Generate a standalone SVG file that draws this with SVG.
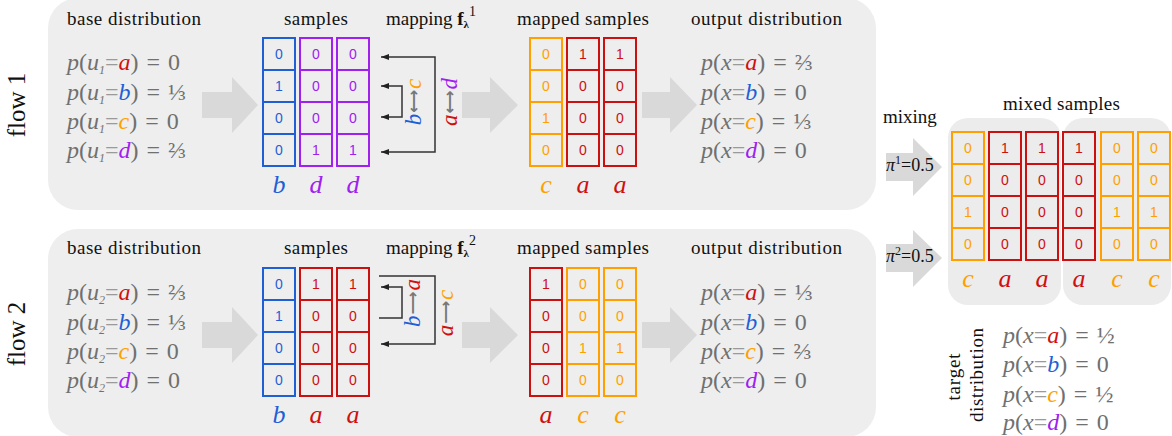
<svg xmlns="http://www.w3.org/2000/svg" width="1172" height="436" viewBox="0 0 1172 436">
<style>
.panel{fill:#eeeeee}
.mpanel{fill:#ececec}
.big{fill:#d9d9d9}
.hdr{font-family:"Liberation Serif",serif;font-size:19px;fill:#111}
.flow{font-family:"Liberation Serif",serif;font-size:25px;fill:#111;text-anchor:middle}
.math{font-family:"Liberation Serif","DejaVu Serif",serif;font-size:24px;fill:#707070;word-spacing:2px}
.it{font-style:italic}
.sub{font-size:12px;font-style:italic}
.eq{fill:#9a9a9a}
.num{font-family:"Liberation Sans",Arial,sans-serif;font-size:14px;text-anchor:middle}
.lbl{font-family:"Liberation Serif",serif;font-size:26px;font-style:italic;text-anchor:middle}
.rl{font-family:"Liberation Serif","DejaVu Serif",serif;font-size:23px;font-style:italic;text-anchor:middle}
.ar{font-family:"DejaVu Sans",sans-serif;font-style:normal;font-weight:bold;font-size:16px;fill:#777}
.map{fill:none;stroke:#333;stroke-width:1.5}
.cB rect,.cP rect,.cR rect,.cO rect{fill:none;stroke-width:2}
.cB rect{stroke:#1f5fd6}.cB text{fill:#1f5fd6}
.cP rect{stroke:#a020f0}.cP text{fill:#a020f0}
.cR rect{stroke:#cc1010}.cR text{fill:#cc1010}
.cO rect{stroke:#ffa000}.cO text{fill:#ffa000}
.r{fill:#d01010}.b{fill:#1f5fd6}.o{fill:#ffa000}.p{fill:#a020f0}
.pi{font-family:"Liberation Serif",serif;font-size:18px;fill:#111}
</style>
<defs>
<marker id="ah" viewBox="0 0 8 6" refX="8" refY="3" markerWidth="8" markerHeight="6" markerUnits="userSpaceOnUse" orient="auto-start-reverse"><path d="M0 0 L8 3 L0 6 z" fill="#222"/></marker>
</defs>

<!-- panels -->
<rect class="panel" x="48" y="-2" width="828" height="212" rx="30"/>
<rect class="panel" x="48" y="229" width="828" height="208" rx="30"/>
<rect class="mpanel" x="948" y="118" width="113" height="187" rx="20"/>
<rect class="mpanel" x="1063" y="118" width="108" height="187" rx="20"/>

<!-- big arrows -->
<g id="bigarrows">
<polygon class="big" points="202,92 232,92 232,77 258,105 232,133 232,118 202,118"/>
<polygon class="big" points="462,92 490,92 490,77 518,105 490,133 490,118 462,118"/>
<polygon class="big" points="642,92 670,92 670,77 697,105 670,133 670,118 642,118"/>
<polygon class="big" points="202,322 232,322 232,307 258,335 232,363 232,348 202,348"/>
<polygon class="big" points="462,322 490,322 490,307 518,335 490,363 490,348 462,348"/>
<polygon class="big" points="642,322 670,322 670,307 697,335 670,363 670,348 642,348"/>
<polygon class="big" points="886,153 913,153 913,138 942,167 913,196 913,181 886,181"/>
<polygon class="big" points="886,244 913,244 913,230 942,258 913,287 913,272 886,272"/>
</g>

<!-- flow labels -->
<text class="flow" x="25" y="105" transform="rotate(-90 25 105)">flow 1</text>
<text class="flow" x="25" y="334" transform="rotate(-90 25 334)">flow 2</text>

<!-- flow 1 -->
<g id="flow1-base">
<text class="hdr" x="67" y="24.5" textLength="134">base distribution</text>
<text class="math" x="67" y="70"><tspan class="it">p</tspan>(<tspan class="it">u</tspan><tspan class="sub" dy="4">1</tspan><tspan class="eq" dy="-4">=</tspan><tspan class="it r">a</tspan>) = 0</text>
<text class="math" x="67" y="100"><tspan class="it">p</tspan>(<tspan class="it">u</tspan><tspan class="sub" dy="4">1</tspan><tspan class="eq" dy="-4">=</tspan><tspan class="it b">b</tspan>) = ⅓</text>
<text class="math" x="67" y="129"><tspan class="it">p</tspan>(<tspan class="it">u</tspan><tspan class="sub" dy="4">1</tspan><tspan class="eq" dy="-4">=</tspan><tspan class="it o">c</tspan>) = 0</text>
<text class="math" x="67" y="158"><tspan class="it">p</tspan>(<tspan class="it">u</tspan><tspan class="sub" dy="4">1</tspan><tspan class="eq" dy="-4">=</tspan><tspan class="it p">d</tspan>) = ⅔</text>
</g>

<g id="flow1-samples">
<text class="hdr" x="284" y="25" textLength="64">samples</text>
<g class="cB"><rect x="263" y="38" width="32" height="32"/><rect x="263" y="70" width="32" height="32"/><rect x="263" y="102" width="32" height="32"/><rect x="263" y="134" width="32" height="32"/>
<text class="num" x="279" y="59">0</text><text class="num" x="279" y="91">1</text><text class="num" x="279" y="123">0</text><text class="num" x="279" y="155">0</text></g>
<g class="cP"><rect x="300" y="38" width="32" height="32"/><rect x="300" y="70" width="32" height="32"/><rect x="300" y="102" width="32" height="32"/><rect x="300" y="134" width="32" height="32"/>
<text class="num" x="316" y="59">0</text><text class="num" x="316" y="91">0</text><text class="num" x="316" y="123">0</text><text class="num" x="316" y="155">1</text></g>
<g class="cP"><rect x="337" y="38" width="32" height="32"/><rect x="337" y="70" width="32" height="32"/><rect x="337" y="102" width="32" height="32"/><rect x="337" y="134" width="32" height="32"/>
<text class="num" x="353" y="59">0</text><text class="num" x="353" y="91">0</text><text class="num" x="353" y="123">0</text><text class="num" x="353" y="155">1</text></g>
<text class="lbl b" x="279" y="193">b</text><text class="lbl p" x="316" y="193">d</text><text class="lbl p" x="353" y="193">d</text>
</g>

<g id="flow1-mapping">
<text class="hdr" x="386" y="25">mapping <tspan font-weight="bold">f</tspan><tspan font-weight="bold" font-size="11" dy="3">λ</tspan><tspan font-size="14" dy="-12">1</tspan></text>
<text class="rl" x="421" y="102" transform="rotate(-90 421 102)"><tspan class="b">b</tspan><tspan class="ar" dx="1" dy="-2">⟷</tspan><tspan class="o" dx="1" dy="2">c</tspan></text>
<text class="rl" x="457" y="102" transform="rotate(-90 457 102)"><tspan class="r">a</tspan><tspan class="ar" dx="1" dy="-2">⟷</tspan><tspan class="p" dx="1" dy="2">d</tspan></text>
</g>

<g id="flow1-mapped">
<text class="hdr" x="517" y="25" textLength="132">mapped samples</text>
<g class="cO"><rect x="530" y="38" width="32" height="32"/><rect x="530" y="70" width="32" height="32"/><rect x="530" y="102" width="32" height="32"/><rect x="530" y="134" width="32" height="32"/>
<text class="num" x="546" y="59">0</text><text class="num" x="546" y="91">0</text><text class="num" x="546" y="123">1</text><text class="num" x="546" y="155">0</text></g>
<g class="cR"><rect x="567" y="38" width="32" height="32"/><rect x="567" y="70" width="32" height="32"/><rect x="567" y="102" width="32" height="32"/><rect x="567" y="134" width="32" height="32"/>
<text class="num" x="583" y="59">1</text><text class="num" x="583" y="91">0</text><text class="num" x="583" y="123">0</text><text class="num" x="583" y="155">0</text></g>
<g class="cR"><rect x="604" y="38" width="32" height="32"/><rect x="604" y="70" width="32" height="32"/><rect x="604" y="102" width="32" height="32"/><rect x="604" y="134" width="32" height="32"/>
<text class="num" x="620" y="59">1</text><text class="num" x="620" y="91">0</text><text class="num" x="620" y="123">0</text><text class="num" x="620" y="155">0</text></g>
<text class="lbl o" x="546" y="193">c</text><text class="lbl r" x="583" y="193">a</text><text class="lbl r" x="620" y="193">a</text>
</g>

<g id="flow1-output">
<text class="hdr" x="691" y="25" textLength="151">output distribution</text>
<text class="math" x="701" y="70"><tspan class="it">p</tspan>(<tspan class="it">x</tspan><tspan class="eq">=</tspan><tspan class="it r">a</tspan>) = ⅔</text>
<text class="math" x="701" y="100"><tspan class="it">p</tspan>(<tspan class="it">x</tspan><tspan class="eq">=</tspan><tspan class="it b">b</tspan>) = 0</text>
<text class="math" x="701" y="129"><tspan class="it">p</tspan>(<tspan class="it">x</tspan><tspan class="eq">=</tspan><tspan class="it o">c</tspan>) = ⅓</text>
<text class="math" x="701" y="158"><tspan class="it">p</tspan>(<tspan class="it">x</tspan><tspan class="eq">=</tspan><tspan class="it p">d</tspan>) = 0</text>
</g>

<!-- flow 2 -->
<g id="flow2-base">
<text class="hdr" x="67" y="254" textLength="134">base distribution</text>
<text class="math" x="67" y="300"><tspan class="it">p</tspan>(<tspan class="it">u</tspan><tspan class="sub" dy="4">2</tspan><tspan class="eq" dy="-4">=</tspan><tspan class="it r">a</tspan>) = ⅔</text>
<text class="math" x="67" y="330"><tspan class="it">p</tspan>(<tspan class="it">u</tspan><tspan class="sub" dy="4">2</tspan><tspan class="eq" dy="-4">=</tspan><tspan class="it b">b</tspan>) = ⅓</text>
<text class="math" x="67" y="359"><tspan class="it">p</tspan>(<tspan class="it">u</tspan><tspan class="sub" dy="4">2</tspan><tspan class="eq" dy="-4">=</tspan><tspan class="it o">c</tspan>) = 0</text>
<text class="math" x="67" y="388"><tspan class="it">p</tspan>(<tspan class="it">u</tspan><tspan class="sub" dy="4">2</tspan><tspan class="eq" dy="-4">=</tspan><tspan class="it p">d</tspan>) = 0</text>
</g>

<g id="flow2-samples">
<text class="hdr" x="284" y="254" textLength="64">samples</text>
<g class="cB"><rect x="263" y="268" width="32" height="32"/><rect x="263" y="300" width="32" height="32"/><rect x="263" y="332" width="32" height="32"/><rect x="263" y="364" width="32" height="32"/>
<text class="num" x="279" y="289">0</text><text class="num" x="279" y="321">1</text><text class="num" x="279" y="353">0</text><text class="num" x="279" y="385">0</text></g>
<g class="cR"><rect x="300" y="268" width="32" height="32"/><rect x="300" y="300" width="32" height="32"/><rect x="300" y="332" width="32" height="32"/><rect x="300" y="364" width="32" height="32"/>
<text class="num" x="316" y="289">1</text><text class="num" x="316" y="321">0</text><text class="num" x="316" y="353">0</text><text class="num" x="316" y="385">0</text></g>
<g class="cR"><rect x="337" y="268" width="32" height="32"/><rect x="337" y="300" width="32" height="32"/><rect x="337" y="332" width="32" height="32"/><rect x="337" y="364" width="32" height="32"/>
<text class="num" x="353" y="289">1</text><text class="num" x="353" y="321">0</text><text class="num" x="353" y="353">0</text><text class="num" x="353" y="385">0</text></g>
<text class="lbl b" x="279" y="423">b</text><text class="lbl r" x="316" y="423">a</text><text class="lbl r" x="353" y="423">a</text>
</g>

<g id="flow2-mapping">
<text class="hdr" x="386" y="254">mapping <tspan font-weight="bold">f</tspan><tspan font-weight="bold" font-size="11" dy="3">λ</tspan><tspan font-size="14" dy="-12">2</tspan></text>
<text class="rl" x="420" y="303" transform="rotate(-90 420 303)"><tspan class="b">b</tspan><tspan class="ar" dx="1" dy="-2">⟶</tspan><tspan class="r" dx="1" dy="2">a</tspan></text>
<text class="rl" x="453" y="313" transform="rotate(-90 453 313)"><tspan class="r">a</tspan><tspan class="ar" dx="1" dy="-2">⟶</tspan><tspan class="o" dx="1" dy="2">c</tspan></text>
</g>

<g id="flow2-mapped">
<text class="hdr" x="517" y="254" textLength="132">mapped samples</text>
<g class="cR"><rect x="530" y="268" width="32" height="32"/><rect x="530" y="300" width="32" height="32"/><rect x="530" y="332" width="32" height="32"/><rect x="530" y="364" width="32" height="32"/>
<text class="num" x="546" y="289">1</text><text class="num" x="546" y="321">0</text><text class="num" x="546" y="353">0</text><text class="num" x="546" y="385">0</text></g>
<g class="cO"><rect x="567" y="268" width="32" height="32"/><rect x="567" y="300" width="32" height="32"/><rect x="567" y="332" width="32" height="32"/><rect x="567" y="364" width="32" height="32"/>
<text class="num" x="583" y="289">0</text><text class="num" x="583" y="321">0</text><text class="num" x="583" y="353">1</text><text class="num" x="583" y="385">0</text></g>
<g class="cO"><rect x="604" y="268" width="32" height="32"/><rect x="604" y="300" width="32" height="32"/><rect x="604" y="332" width="32" height="32"/><rect x="604" y="364" width="32" height="32"/>
<text class="num" x="620" y="289">0</text><text class="num" x="620" y="321">0</text><text class="num" x="620" y="353">1</text><text class="num" x="620" y="385">0</text></g>
<text class="lbl r" x="546" y="423">a</text><text class="lbl o" x="583" y="423">c</text><text class="lbl o" x="620" y="423">c</text>
</g>

<g id="flow2-output">
<text class="hdr" x="691" y="254" textLength="151">output distribution</text>
<text class="math" x="701" y="300"><tspan class="it">p</tspan>(<tspan class="it">x</tspan><tspan class="eq">=</tspan><tspan class="it r">a</tspan>) = ⅓</text>
<text class="math" x="701" y="330"><tspan class="it">p</tspan>(<tspan class="it">x</tspan><tspan class="eq">=</tspan><tspan class="it b">b</tspan>) = 0</text>
<text class="math" x="701" y="359"><tspan class="it">p</tspan>(<tspan class="it">x</tspan><tspan class="eq">=</tspan><tspan class="it o">c</tspan>) = ⅔</text>
<text class="math" x="701" y="388"><tspan class="it">p</tspan>(<tspan class="it">x</tspan><tspan class="eq">=</tspan><tspan class="it p">d</tspan>) = 0</text>
</g>

<!-- mixing -->
<g id="mixing">
<text class="hdr" x="883" y="123">mixing</text>
<text class="pi" x="886" y="171"><tspan font-style="italic">π</tspan><tspan font-size="12" dy="-7">1</tspan><tspan dy="7">=0.5</tspan></text>
<text class="pi" x="886" y="262"><tspan font-style="italic">π</tspan><tspan font-size="12" dy="-7">2</tspan><tspan dy="7">=0.5</tspan></text>
</g>

<g id="mixed-samples">
<text class="hdr" x="1003" y="110" textLength="117">mixed samples</text>
<g class="cO"><rect x="952" y="132" width="32" height="32"/><rect x="952" y="164" width="32" height="32"/><rect x="952" y="196" width="32" height="32"/><rect x="952" y="228" width="32" height="32"/>
<text class="num" x="968" y="153">0</text><text class="num" x="968" y="185">0</text><text class="num" x="968" y="217">1</text><text class="num" x="968" y="249">0</text></g>
<g class="cR"><rect x="989" y="132" width="32" height="32"/><rect x="989" y="164" width="32" height="32"/><rect x="989" y="196" width="32" height="32"/><rect x="989" y="228" width="32" height="32"/>
<text class="num" x="1005" y="153">1</text><text class="num" x="1005" y="185">0</text><text class="num" x="1005" y="217">0</text><text class="num" x="1005" y="249">0</text></g>
<g class="cR"><rect x="1026" y="132" width="32" height="32"/><rect x="1026" y="164" width="32" height="32"/><rect x="1026" y="196" width="32" height="32"/><rect x="1026" y="228" width="32" height="32"/>
<text class="num" x="1042" y="153">1</text><text class="num" x="1042" y="185">0</text><text class="num" x="1042" y="217">0</text><text class="num" x="1042" y="249">0</text></g>
<g class="cR"><rect x="1063" y="132" width="32" height="32"/><rect x="1063" y="164" width="32" height="32"/><rect x="1063" y="196" width="32" height="32"/><rect x="1063" y="228" width="32" height="32"/>
<text class="num" x="1079" y="153">1</text><text class="num" x="1079" y="185">0</text><text class="num" x="1079" y="217">0</text><text class="num" x="1079" y="249">0</text></g>
<g class="cO"><rect x="1101" y="132" width="32" height="32"/><rect x="1101" y="164" width="32" height="32"/><rect x="1101" y="196" width="32" height="32"/><rect x="1101" y="228" width="32" height="32"/>
<text class="num" x="1117" y="153">0</text><text class="num" x="1117" y="185">0</text><text class="num" x="1117" y="217">1</text><text class="num" x="1117" y="249">0</text></g>
<g class="cO"><rect x="1138" y="132" width="32" height="32"/><rect x="1138" y="164" width="32" height="32"/><rect x="1138" y="196" width="32" height="32"/><rect x="1138" y="228" width="32" height="32"/>
<text class="num" x="1154" y="153">0</text><text class="num" x="1154" y="185">0</text><text class="num" x="1154" y="217">1</text><text class="num" x="1154" y="249">0</text></g>
<text class="lbl o" x="968" y="287">c</text><text class="lbl r" x="1005" y="287">a</text><text class="lbl r" x="1042" y="287">a</text><text class="lbl r" x="1079" y="287">a</text><text class="lbl o" x="1117" y="287">c</text><text class="lbl o" x="1154" y="287">c</text>
</g>

<g id="target">
<text class="hdr" x="960" y="377" text-anchor="middle" textLength="47" transform="rotate(-90 960 377)">target</text>
<text class="hdr" x="983" y="375" text-anchor="middle" textLength="94" transform="rotate(-90 983 375)">distribution</text>
<text class="math" x="1003" y="343"><tspan class="it">p</tspan>(<tspan class="it">x</tspan><tspan class="eq">=</tspan><tspan class="it r">a</tspan>) = ½</text>
<text class="math" x="1003" y="372"><tspan class="it">p</tspan>(<tspan class="it">x</tspan><tspan class="eq">=</tspan><tspan class="it b">b</tspan>) = 0</text>
<text class="math" x="1003" y="402"><tspan class="it">p</tspan>(<tspan class="it">x</tspan><tspan class="eq">=</tspan><tspan class="it o">c</tspan>) = ½</text>
<text class="math" x="1003" y="430"><tspan class="it">p</tspan>(<tspan class="it">x</tspan><tspan class="eq">=</tspan><tspan class="it p">d</tspan>) = 0</text>
</g>

<!-- connectors -->
<g id="connectors">
<path class="map" d="M381 57 H435 V152 H381" marker-start="url(#ah)" marker-end="url(#ah)"/>
<path class="map" d="M381 86 H402 V117 H381" marker-start="url(#ah)" marker-end="url(#ah)"/>
<path class="map" d="M379 276 H435 V344 H381" marker-end="url(#ah)"/>
<path class="map" d="M379 318 H402 V287 H381" marker-end="url(#ah)"/>
</g>
</svg>
